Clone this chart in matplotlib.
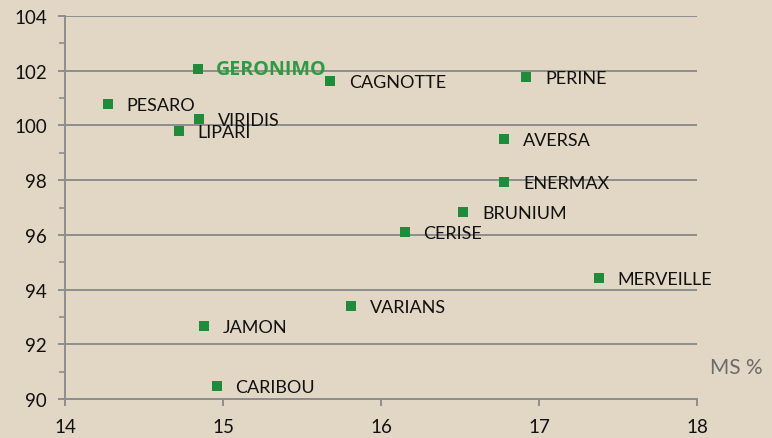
"""Scatter of varieties: yield index vs MS %."""
import matplotlib
matplotlib.use("Agg")
import matplotlib.pyplot as plt
from matplotlib.ticker import MultipleLocator

NAMES = ["GERONIMO", "CAGNOTTE", "PERINE", "PESARO", "VIRIDIS", "LIPARI", "AVERSA",
         "ENERMAX", "BRUNIUM", "CERISE", "MERVEILLE", "VARIANS", "JAMON", "CARIBOU"]
MS = [14.84, 15.68, 16.92, 14.27, 14.85, 14.72, 16.78, 16.78, 16.52, 16.15, 17.38, 15.81, 14.88, 14.96]
IDX = [102.06, 101.62, 101.77, 100.78, 100.24, 99.80, 99.50, 97.93, 96.84, 96.11, 94.42, 93.40, 92.67, 90.48]
HIGHLIGHT = "GERONIMO"

BG = "#e2d7c5"
GREEN = "#1e8c3a"
GRID = "#8e8e8e"

plt.rcParams["font.family"] = ["Lato", "DejaVu Sans"]

fig = plt.figure(figsize=(7.72, 4.39), dpi=100, facecolor=BG)
ax = fig.add_axes([0.0842, 0.0888, 0.8186, 0.8725], facecolor=BG)

ax.scatter(MS, IDX, marker="s", s=62, color=GREEN, linewidths=0, zorder=3)
for n, x, y in zip(NAMES, MS, IDX):
    if n == HIGHLIGHT:
        ax.annotate(n, (x, y), xytext=(13, 0), textcoords="offset points", va="center",
                    fontsize=14.2, fontweight="bold", family=["Open Sans", "DejaVu Sans"],
                    color="#2f9a44", zorder=4)
    else:
        ax.annotate(n, (x, y), xytext=(13.5, -1), textcoords="offset points", va="center",
                    fontsize=13, color="#111111", zorder=4)

ax.set_xlim(14, 18)
ax.set_ylim(90, 104)
ax.xaxis.set_major_locator(MultipleLocator(1))
ax.yaxis.set_major_locator(MultipleLocator(2))
ax.yaxis.set_minor_locator(MultipleLocator(1))
ax.grid(axis="y", color=GRID, lw=1.4, zorder=1)
for s in ("top", "right"):
    ax.spines[s].set_visible(False)
for s in ("left", "bottom"):
    ax.spines[s].set_color(GRID)
    ax.spines[s].set_linewidth(1.4)
ax.tick_params(axis="both", which="major", color=GRID, width=1.4, length=5,
               labelsize=13.5, labelcolor="#111111")
ax.tick_params(axis="y", which="minor", color=GRID, width=1.2, length=4)
ax.tick_params(axis="x", pad=9)
ax.tick_params(axis="y", pad=8)
ax.text(1.02, 0.083, "MS %", transform=ax.transAxes, fontsize=15, color="#6b6b6b",
        ha="left", va="center")

fig.savefig("out.png", dpi=100, facecolor=BG)
